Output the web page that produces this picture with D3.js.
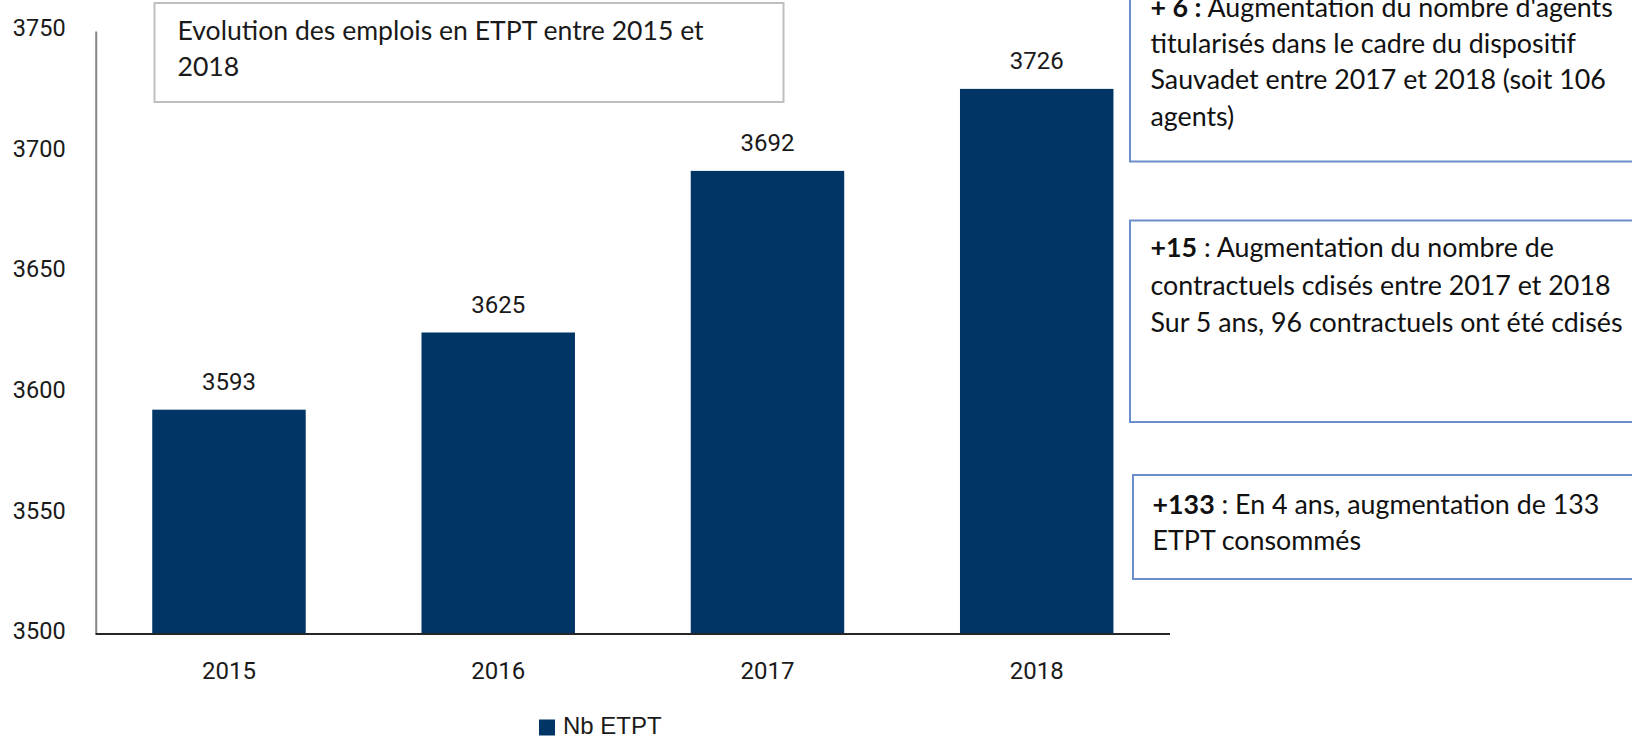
<!DOCTYPE html>
<html>
<head>
<meta charset="utf-8">
<script src="https://cdn.jsdelivr.net/npm/d3@7"></script>
<style>
  html, body { margin: 0; padding: 0; background: #ffffff; }
  svg { display: block; }
</style>
</head>
<body>
<svg id="chart" width="1632" height="738"></svg>
<script>
// ---- data ----
const categories = ["2015", "2016", "2017", "2018"];
const nbEtpt = [3593, 3625, 3692, 3726];
const yTicks = [3500, 3550, 3600, 3650, 3700, 3750];
const seriesName = "Nb ETPT";
const titleLines = ["Evolution des emplois en ETPT entre 2015 et", "2018"];
const note1Lines = [
  [{ t: "+ 6 :", b: true }, { t: " Augmentation du nombre d'agents", b: false }],
  [{ t: "titularisés dans le cadre du dispositif", b: false }],
  [{ t: "Sauvadet entre 2017 et 2018 (soit 106", b: false }],
  [{ t: "agents)", b: false }]
];
const note2Lines = [
  [{ t: "+15", b: true }, { t: " : Augmentation du nombre de", b: false }],
  [{ t: "contractuels cdisés entre 2017 et 2018", b: false }],
  [{ t: "Sur 5 ans, 96 contractuels ont été cdisés", b: false }]
];
const note3Lines = [
  [{ t: "+133", b: true }, { t: " : En 4 ans, augmentation de 133", b: false }],
  [{ t: "ETPT consommés", b: false }]
];

// ---- layout ----
const svg = d3.select("#chart");
const barColor = "#003566";
const numFont = "Roboto, 'DejaVu Sans', sans-serif";
const noteFont = "Lato, 'Open Sans', sans-serif";
const noteSize = 26.8;

const x = d3.scaleBand().domain(categories).range([95.7, 1170])
  .paddingInner(0.43).paddingOuter(0.21);
const y = d3.scaleLinear().domain([3500, 3750]).range([634, 31]);

// bars
svg.append("g").selectAll("rect").data(categories).join("rect")
  .attr("x", d => x(d))
  .attr("y", (d, i) => y(nbEtpt[i]))
  .attr("width", x.bandwidth())
  .attr("height", (d, i) => y(3500) - y(nbEtpt[i]))
  .attr("fill", barColor);

// value labels
svg.append("g").selectAll("text").data(categories).join("text")
  .attr("x", d => x(d) + x.bandwidth() / 2)
  .attr("y", (d, i) => y(nbEtpt[i]) - 20)
  .attr("text-anchor", "middle")
  .attr("font-family", numFont)
  .attr("font-size", 24)
  .attr("fill", "#1a1a1a")
  .text((d, i) => nbEtpt[i]);

// y axis
const yAxis = d3.axisLeft(y).tickValues(yTicks).tickSize(0).tickPadding(30)
  .tickFormat(d3.format("d"));
const gy = svg.append("g").attr("transform", "translate(95.7,0)").call(yAxis);
gy.select(".domain").attr("stroke", "#868686").attr("stroke-width", 2);
gy.selectAll(".tick text")
  .attr("font-family", numFont).attr("font-size", 23.5)
  .attr("fill", "#1a1a1a").attr("dy", "0.2em");

// x axis
const xAxis = d3.axisBottom(x).tickSize(0).tickPadding(28);
const gx = svg.append("g").attr("transform", "translate(0,634)").call(xAxis);
gx.select(".domain").attr("stroke", "#262626").attr("stroke-width", 2)
  .attr("d", "M95.7,0H1170");
gx.selectAll(".tick text")
  .attr("font-family", numFont).attr("font-size", 24)
  .attr("fill", "#1a1a1a");

// legend
const lg = svg.append("g").attr("transform", "translate(539,719.5)");
lg.append("rect").attr("width", 16).attr("height", 16).attr("fill", barColor);
lg.append("text").attr("x", 24).attr("y", 14.5)
  .attr("font-family", "'Liberation Sans', Arial, sans-serif")
  .attr("font-size", 24).attr("fill", "#1a1a1a")
  .text(seriesName);

// title box
svg.append("rect").attr("x", 154.5).attr("y", 3).attr("width", 629).attr("height", 99)
  .attr("fill", "#ffffff").attr("stroke", "#bfbfbf").attr("stroke-width", 2);
svg.append("g").selectAll("text").data(titleLines).join("text")
  .attr("x", 177.5)
  .attr("y", (d, i) => 39.5 + i * 36.7)
  .attr("font-family", noteFont).attr("font-size", 26.6)
  .attr("fill", "#1a1a1a")
  .text(d => d);

// annotation boxes
function noteBox(lines, bx, by, bh, tx, ty, lh) {
  svg.append("rect").attr("x", bx).attr("y", by).attr("width", 1700 - bx).attr("height", bh)
    .attr("fill", "#ffffff").attr("stroke", "#6a8fca").attr("stroke-width", 2);
  const t = svg.append("g");
  lines.forEach((parts, i) => {
    const tt = t.append("text").attr("x", tx).attr("y", ty + i * lh)
      .attr("font-family", noteFont).attr("font-size", noteSize).attr("fill", "#111111");
    parts.forEach(p => tt.append("tspan").attr("font-weight", p.b ? "bold" : "normal").text(p.t));
  });
}
noteBox(note1Lines, 1130, -10, 171.5, 1150.5, 16.5, 36.4);
noteBox(note2Lines, 1130, 220.5, 201.5, 1150.5, 257, 37.6);
noteBox(note3Lines, 1133, 475, 104, 1152.5, 514, 35.8);
</script>
</body>
</html>
